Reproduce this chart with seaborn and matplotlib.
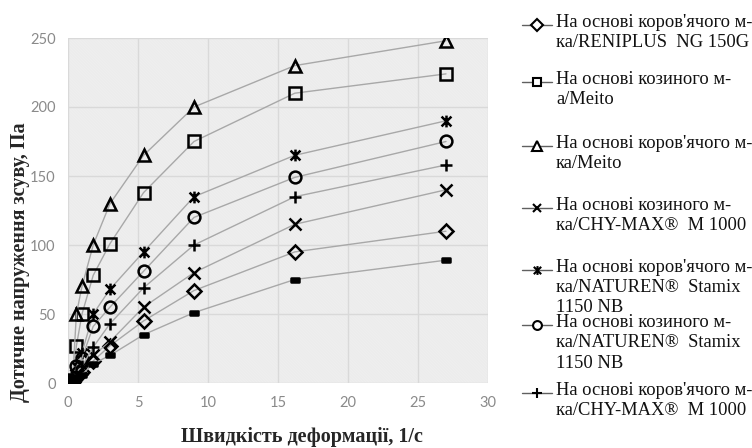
import numpy as np
import pandas as pd
import matplotlib
matplotlib.use('Agg')
import matplotlib.pyplot as plt
import seaborn as sns
from matplotlib.path import Path
from matplotlib.patches import Rectangle
from matplotlib.lines import Line2D

# shear rate, 1/s
shear_rate = [0.333, 0.6, 1.0, 1.8, 3.0, 5.4, 9.0, 16.2, 27.0]

# shear stress, Pa
cow_reniplus = [1, 4, 8, 16, 27, 45, 67, 95, 110]
goat_meito = [2, 27, 50, 78, 101, 138, 175, 210, 224]
cow_meito = [3, 50, 70, 100, 130, 165, 200, 230, 248]
goat_chymax = [1, 6, 10, 20, 30, 55, 80, 115, 140]
cow_naturen = [2, 12, 22, 50, 68, 95, 135, 165, 190]
goat_naturen = [2, 12, 18, 41, 55, 81, 120, 149, 175]
cow_chymax = [1, 8, 12, 26, 43, 69, 100, 135, 158]
extra_series = [1, 4, 6, 14, 20, 35, 51, 75, 89]

labels = [
    "На основі коров'ячого м-\nка/RENIPLUS  NG 150G",
    "На основі козиного м-\nа/Meito",
    "На основі коров'ячого м-\nка/Meito",
    "На основі козиного м-\nка/CHY-MAX®  M 1000",
    "На основі коров'ячого м-\nка/NATUREN®  Stamix\n1150 NB",
    "На основі козиного м-\nка/NATUREN®  Stamix\n1150 NB",
    "На основі коров'ячого м-\nка/CHY-MAX®  M 1000",
]

# custom markers: excel "star" (x + vertical bar) and short dash
star = Path([(-1, -1), (1, 1), (-1, 1), (1, -1), (0, -1.2), (0, 1.2)],
            [Path.MOVETO, Path.LINETO, Path.MOVETO, Path.LINETO, Path.MOVETO, Path.LINETO])
dash = Path([(-1, -0.45), (1, -0.45), (1, 0.45), (-1, 0.45), (-1, -0.45)],
            [Path.MOVETO, Path.LINETO, Path.LINETO, Path.LINETO, Path.CLOSEPOLY])

series = [
    (cow_reniplus, 'D', 7.5, 'none'),
    (goat_meito, 's', 8.5, 'none'),
    (cow_meito, '^', 9, 'none'),
    (goat_chymax, 'x', 8.5, 'none'),
    (cow_naturen, star, 8.5, 'none'),
    (goat_naturen, 'o', 8.5, 'none'),
    (cow_chymax, '+', 9, 'none'),
    (extra_series, dash, 6, 'black'),
]

sns.set_theme(style='white')
plt.rcParams['font.family'] = ['Liberation Serif', 'DejaVu Serif']

fig = plt.figure(figsize=(7.52, 4.48), dpi=100)
ax = fig.add_axes([68 / 752, 1 - 383 / 448, 420 / 752, 345 / 448])

# hatched plot area like the excel texture
ax.set_facecolor('#f9f9f9')
plt.rcParams['hatch.color'] = '#eaeaea'
plt.rcParams['hatch.linewidth'] = 0.6
ax.add_patch(Rectangle((0, 0), 1, 1, transform=ax.transAxes, facecolor='none',
                       edgecolor='#eaeaea', hatch='\\' * 22, lw=0, zorder=0))

for vals, mk, ms, mfc in series:
    sns.lineplot(x=shear_rate, y=vals, ax=ax, color='#a8a8a8', lw=1,
                 marker=mk, markersize=ms, markerfacecolor=mfc,
                 markeredgecolor='black', markeredgewidth=1.8, zorder=3)

ax.set_xlim(0, 30)
ax.set_ylim(0, 250)
ax.set_xticks(range(0, 31, 5))
ax.set_yticks(range(0, 251, 50))
ax.grid(True, color='#d9d9d9', lw=1)
ax.set_axisbelow(True)
for s in ax.spines.values():
    s.set_visible(False)
ax.tick_params(length=0, labelsize=10.5, labelcolor='#8a8a8a', pad=9)
for t in ax.get_xticklabels() + ax.get_yticklabels():
    t.set_family(['Lato', 'DejaVu Sans'])

ax.set_xlabel('Швидкість деформації, 1/с', fontsize=14.5, fontweight='bold', va='center')
ax.set_ylabel('Дотичне напруження зсуву, Па', fontsize=14.5, fontweight='bold', va='center')
ax.xaxis.set_label_coords((302 - 68) / 420, (383 - 437) / 345)
ax.yaxis.set_label_coords((20 - 68) / 420, (383 - 262) / 345)

# legend drawn by hand to keep excel's cramped layout
entry_y = [25, 82, 146, 208, 270, 325, 393]
W, H = 752, 448
for (vals, mk, ms, mfc), lab, py in zip(series, labels, entry_y):
    yf = 1 - py / H
    fig.add_artist(Line2D([522 / W, 552 / W], [yf, yf], transform=fig.transFigure,
                          color='#606060', lw=1))
    fig.add_artist(Line2D([537 / W], [yf], transform=fig.transFigure, marker=mk,
                          markersize=ms * 0.75, markerfacecolor='white' if mfc == 'none' else mfc,
                          markeredgecolor='black', markeredgewidth=1.5, lw=0))
    fig.text(556 / W, yf + 11 / H, lab, fontsize=13.3, va='top', ha='left', linespacing=1.25,
             color='#111111', transform=fig.transFigure)

fig.savefig('out.png', dpi=100)
